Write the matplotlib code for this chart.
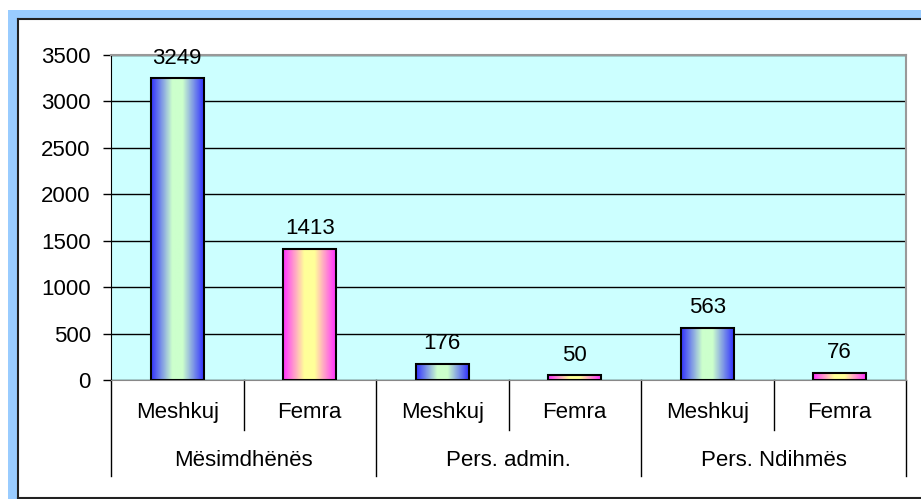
import numpy as np
import matplotlib
matplotlib.use("Agg")
import matplotlib.pyplot as plt
from matplotlib.patches import Rectangle
from matplotlib.colors import to_rgb

plt.rcParams['font.family'] = ['Liberation Sans', 'DejaVu Sans']

# data
groups = ["Mësimdhënës", "Pers. admin.", "Pers. Ndihmës"]
sexes = ["Meshkuj", "Femra"]
values = [3249, 1413, 176, 50, 563, 76]
yticks = [0, 500, 1000, 1500, 2000, 2500, 3000, 3500]

FS = 16
W, H = 921, 499
fig = plt.figure(figsize=(W / 100, H / 100), dpi=100)
fig.patch.set_facecolor("white")

# outer frame: light blue band on left/top, black border line
fig.patches.append(Rectangle((8 / W, 0), 9 / W, 489 / H, transform=fig.transFigure,
                             facecolor="#99ccff", edgecolor="none", zorder=0))
fig.patches.append(Rectangle((8 / W, 480 / H), (W - 8) / W, 9 / H, transform=fig.transFigure,
                             facecolor="#99ccff", edgecolor="none", zorder=0))
fig.lines.append(plt.Line2D([17.5 / W, 17.5 / W], [1.5 / H, 480.5 / H], transform=fig.transFigure,
                            color="#222222", lw=1.5))
fig.lines.append(plt.Line2D([17.5 / W, 1], [480.5 / H, 480.5 / H], transform=fig.transFigure,
                            color="#222222", lw=1.5))
fig.lines.append(plt.Line2D([17.5 / W, 1], [1.5 / H, 1.5 / H], transform=fig.transFigure,
                            color="#222222", lw=1.5))

ax = fig.add_axes([111 / W, (H - 380) / H, 795 / W, 325 / H])
ax.set_facecolor("#ccffff")

x = np.arange(len(values))
ax.set_xlim(-0.5, len(values) - 0.5)
ax.set_ylim(0, 3500)
ax.set_yticks(yticks)
ax.set_yticklabels([str(t) for t in yticks], fontsize=FS)
ax.yaxis.grid(True, color="black", lw=1)
ax.set_axisbelow(True)
ax.tick_params(axis="y", length=5.5, width=1, color="black", pad=9)
ax.set_xticks([])

for s in ["top", "right"]:
    ax.spines[s].set_color("#999999")
    ax.spines[s].set_linewidth(1.5)
ax.spines["left"].set_color("black")
ax.spines["bottom"].set_color("#888888")


def gradient(edge, mid, n=64):
    t = np.linspace(0, 1, n)
    f = np.interp(np.abs(t - 0.5) * 2, [0, 0.2, 1], [0, 0, 1])
    e = np.array(to_rgb(edge))
    m = np.array(to_rgb(mid))
    row = m[None, :] * (1 - f[:, None]) + e[None, :] * f[:, None]
    return row[None, :, :]


grad_m = gradient("#3333ff", "#ccffcc")
grad_f = gradient("#ff33ff", "#ffff99")

bw = 0.4
for i, v in enumerate(values):
    img = grad_m if i % 2 == 0 else grad_f
    ax.imshow(img, extent=(i - bw / 2, i + bw / 2, 0, v), aspect="auto",
              interpolation="bilinear", zorder=2)
    ax.add_patch(Rectangle((i - bw / 2, 0), bw, v, facecolor="none",
                           edgecolor="black", lw=1.5, zorder=3))
    ax.annotate(str(v), (i, v), xytext=(0, 7), textcoords="offset points",
                ha="center", va="bottom", fontsize=FS)

ax.set_xlim(-0.5, len(values) - 0.5)
ax.set_ylim(0, 3500)

# two-level category axis
tr = ax.get_xaxis_transform()
short_y, long_y = -0.154, -0.295
for k in range(len(values) + 1):
    xe = k - 0.5
    bottom = long_y if k % 2 == 0 else short_y
    ax.plot([xe, xe], [0, bottom], transform=tr, color="black", lw=1, clip_on=False)
for i in x:
    ax.text(i, -0.1, sexes[i % 2], transform=tr, ha="center", va="center", fontsize=FS)
for g, name in enumerate(groups):
    ax.text(2 * g + 0.5, -0.248, name, transform=tr, ha="center", va="center", fontsize=FS)

fig.savefig("out.png", dpi=100)
